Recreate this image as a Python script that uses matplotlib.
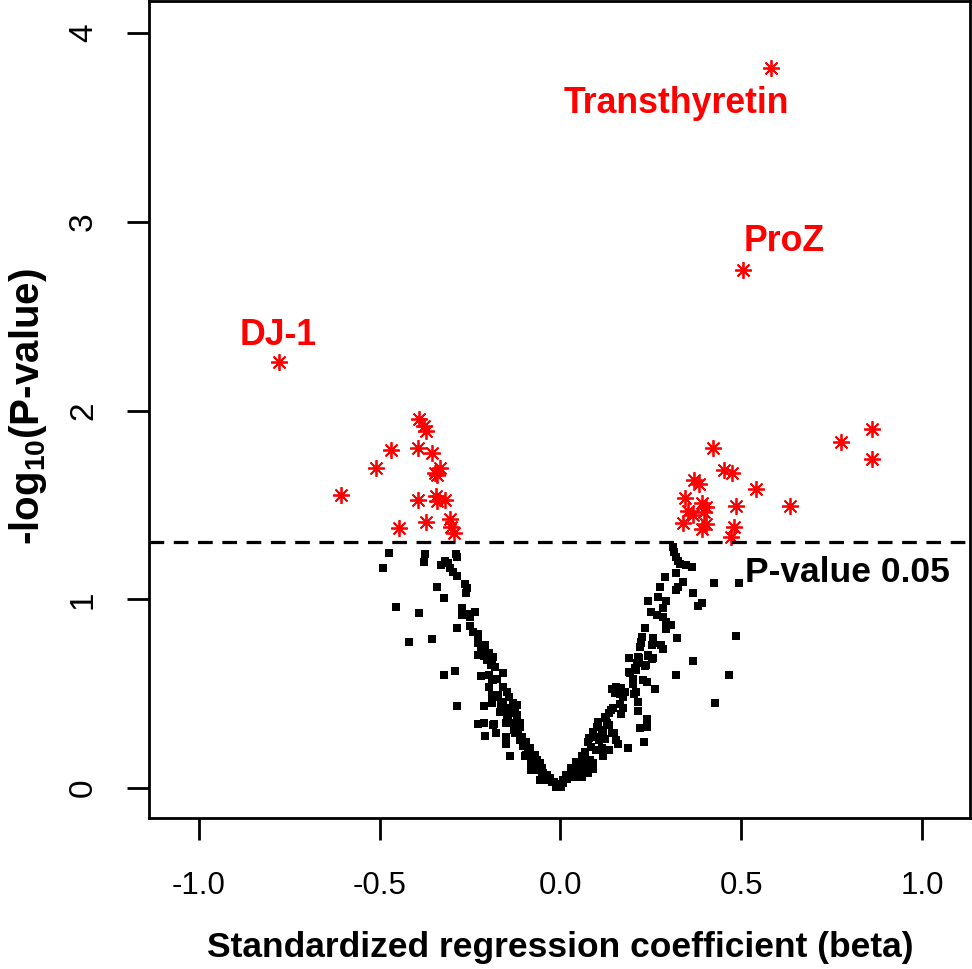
import matplotlib
matplotlib.use("Agg")
import matplotlib.pyplot as plt

plt.rcParams['font.family'] = ['Liberation Sans', 'DejaVu Sans']
plt.rcParams['mathtext.fontset'] = 'custom'
plt.rcParams['mathtext.rm'] = 'Liberation Sans'
plt.rcParams['mathtext.it'] = 'Liberation Sans'
plt.rcParams['mathtext.bf'] = 'Liberation Sans:bold'

# ---- significant proteins (red asterisks) ----
sig_beta = [0.582, 0.505, -0.779,
            -0.391, -0.378, -0.372, -0.469, -0.393, -0.356, -0.511, -0.333, -0.347,
            -0.341, -0.393, -0.344, -0.341, -0.318, -0.372, -0.446, -0.306, -0.303,
            -0.294, -0.607,
            0.421, 0.452, 0.476, 0.370, 0.383, 0.540, 0.344, 0.393, 0.402, 0.487,
            0.354, 0.367, 0.398, 0.340, 0.402, 0.393, 0.480, 0.471,
            0.863, 0.775, 0.863, 0.635]
sig_logp = [3.815, 2.744, 2.257,
            1.953, 1.920, 1.893, 1.791, 1.803, 1.773, 1.694, 1.694, 1.671,
            1.658, 1.526, 1.547, 1.522, 1.526, 1.408, 1.376, 1.424, 1.384,
            1.349, 1.552,
            1.800, 1.685, 1.671, 1.632, 1.609, 1.583, 1.535, 1.512, 1.487, 1.494,
            1.469, 1.446, 1.462, 1.402, 1.399, 1.371, 1.384, 1.328,
            1.900, 1.835, 1.742, 1.494]

# ---- non-significant proteins (black squares) ----
ns_beta = [
    -0.474, -0.490, -0.375, -0.378, -0.331, -0.320, -0.310, -0.289, -0.287, -0.306,
    -0.298, -0.287, -0.341, -0.264, -0.258, -0.261, -0.321, -0.456, -0.391, -0.271,
    -0.273, -0.259, -0.237, -0.250, -0.285, -0.250, -0.241, -0.227, -0.418, -0.355,
    -0.229, -0.209, -0.221, -0.227, -0.212, -0.197, -0.204, -0.188, -0.193, -0.181,
    -0.322, -0.292, -0.221, -0.197, -0.190, -0.176, -0.160, -0.197, -0.158, -0.149,
    -0.188, -0.175, -0.142, -0.190, -0.163, -0.131, -0.121, -0.285, -0.212, -0.163,
    -0.149, -0.132, -0.121, -0.149, -0.227, -0.212, -0.184, -0.151, -0.131, -0.112,
    -0.178, -0.209, -0.151, -0.129, -0.117, -0.151, -0.112, -0.098, -0.103, -0.140,
    -0.098, -0.089, -0.084, -0.075, -0.066, -0.080, -0.057, -0.080, -0.066, -0.052,
    -0.048, -0.038, -0.029, -0.018, -0.009, 0.000, -0.057, -0.046,
    -0.227, -0.223, -0.186, -0.190, -0.186, -0.172, -0.158, -0.126, -0.167, -0.144,
    -0.121, -0.186, -0.112, -0.126, -0.107, -0.094, -0.084, -0.094, -0.071, -0.075,
    -0.052, -0.043, -0.024, -0.011,
    0.312, 0.314, 0.321, 0.326, 0.332, 0.347, 0.363, 0.319, 0.289, 0.340,
    0.326, 0.275, 0.321, 0.425, 0.495, 0.366, 0.271, 0.292, 0.243, 0.393,
    0.381, 0.283, 0.250, 0.266, 0.284, 0.292, 0.306, 0.292, 0.234, 0.487,
    0.323, 0.225, 0.257, 0.222, 0.252, 0.220, 0.277, 0.283, 0.190, 0.215,
    0.243, 0.252, 0.366, 0.211, 0.234, 0.206, 0.192, 0.321, 0.467, 0.200,
    0.229, 0.240, 0.201, 0.261, 0.142, 0.155, 0.169, 0.151, 0.165, 0.178,
    0.203, 0.174, 0.215, 0.427, 0.165, 0.146, 0.215, 0.167, 0.135, 0.123,
    0.240, 0.105, 0.128, 0.100, 0.220, 0.240, 0.114, 0.144, 0.091, 0.095,
    0.123, 0.155, 0.231, 0.077, 0.086, 0.160, 0.188, 0.114, 0.135, 0.118,
    0.068, 0.059, 0.082, 0.091, 0.054, 0.045, 0.068, 0.091, 0.035, 0.054,
    0.026, 0.017, 0.008, 0.040, 0.003,
    0.223, 0.255, 0.218, 0.241, 0.255, 0.236, 0.190, 0.209, 0.209, 0.172,
    0.140, 0.126, 0.135, 0.117, 0.149, 0.080, 0.107, 0.098, 0.043, 0.066,
    0.029, 0.052, 0.075, 0.015, 0.006, -0.003, 0.061]
ns_logp = [
    1.247, 1.167, 1.240, 1.199, 1.181, 1.204, 1.190, 1.240, 1.226, 1.164,
    1.146, 1.123, 1.063, 1.081, 1.058, 1.031, 1.005, 0.961, 0.929, 0.952,
    0.917, 0.922, 0.934, 0.908, 0.846, 0.858, 0.828, 0.816, 0.775, 0.789,
    0.784, 0.758, 0.731, 0.705, 0.699, 0.714, 0.678, 0.687, 0.652, 0.639,
    0.599, 0.622, 0.593, 0.599, 0.572, 0.576, 0.608, 0.537, 0.537, 0.510,
    0.493, 0.484, 0.484, 0.449, 0.457, 0.449, 0.440, 0.434, 0.434, 0.413,
    0.422, 0.396, 0.387, 0.378, 0.339, 0.346, 0.337, 0.343, 0.343, 0.346,
    0.293, 0.275, 0.269, 0.307, 0.290, 0.233, 0.254, 0.245, 0.223, 0.170,
    0.170, 0.201, 0.184, 0.157, 0.148, 0.134, 0.131, 0.095, 0.095, 0.104,
    0.078, 0.069, 0.051, 0.033, 0.016, 0.007, 0.042, 0.057,
    0.767, 0.705, 0.696, 0.652, 0.572, 0.493, 0.440, 0.431, 0.404, 0.387,
    0.369, 0.334, 0.325, 0.290, 0.272, 0.245, 0.210, 0.175, 0.175, 0.131,
    0.086, 0.042, 0.033, 0.007,
    1.279, 1.252, 1.226, 1.204, 1.187, 1.181, 1.172, 1.141, 1.116, 1.093,
    1.066, 1.066, 1.049, 1.088, 1.088, 1.035, 1.014, 0.992, 0.991, 0.979,
    0.964, 0.952, 0.934, 0.917, 0.908, 0.881, 0.864, 0.841, 0.846, 0.805,
    0.793, 0.802, 0.793, 0.775, 0.758, 0.749, 0.758, 0.735, 0.687, 0.696,
    0.699, 0.682, 0.674, 0.664, 0.646, 0.634, 0.611, 0.599, 0.599, 0.576,
    0.572, 0.563, 0.551, 0.523, 0.523, 0.537, 0.528, 0.502, 0.498, 0.510,
    0.498, 0.484, 0.457, 0.452, 0.445, 0.422, 0.410, 0.392, 0.396, 0.375,
    0.364, 0.351, 0.346, 0.325, 0.316, 0.322, 0.307, 0.293, 0.298, 0.272,
    0.258, 0.254, 0.242, 0.245, 0.219, 0.233, 0.210, 0.210, 0.201, 0.170,
    0.192, 0.170, 0.148, 0.134, 0.134, 0.113, 0.104, 0.099, 0.086, 0.069,
    0.064, 0.046, 0.025, 0.057, 0.007,
    0.767, 0.767, 0.687, 0.705, 0.687, 0.652, 0.616, 0.625, 0.510, 0.422,
    0.413, 0.369, 0.334, 0.298, 0.290, 0.263, 0.254, 0.201, 0.139, 0.131,
    0.104, 0.086, 0.078, 0.069, 0.042, 0.021, 0.060]

labels = ["Transthyretin", "ProZ", "DJ-1"]
label_x = [0.322, 0.618, -0.781]
label_y = [3.629, 2.898, 2.400]

threshold = 1.30103  # -log10(0.05)
xticks = [-1.0, -0.5, 0.0, 0.5, 1.0]
yticks = [0, 1, 2, 3, 4]

fig = plt.figure(figsize=(9.72, 9.69), dpi=100)
ax = fig.add_axes([149/972, 1 - 818/969, (970-149)/972, (818-1)/969])

ax.plot(ns_beta, ns_logp, linestyle='none', marker='s', markersize=5.2,
        markeredgewidth=0, color='black')
ax.plot(sig_beta, sig_logp, linestyle='none', marker=(8, 2, 0), markersize=12,
        markeredgewidth=1.3, color='red', markeredgecolor='red')

ax.axhline(threshold, color='black', lw=2.3, dashes=(4.6, 3.0))

for t, x, y in zip(labels, label_x, label_y):
    ax.text(x, y, t, color='red', fontsize=25.7, fontweight='bold',
            ha='center', va='center')
ax.text(0.793, 1.144, "P-value 0.05", color='black', fontsize=25.5,
        fontweight='bold', ha='center', va='center')

ax.set_xlim(-1.138, 1.133)
ax.set_ylim(-0.159, 4.17)
ax.set_xticks(xticks)
ax.set_xticklabels([f"{v:.1f}" for v in xticks])
ax.set_yticks(yticks)
ax.set_yticklabels([str(v) for v in yticks], rotation=90, va='center')
ax.tick_params(axis='both', length=16, width=2, direction='out')
ax.tick_params(axis='x', pad=22, labelsize=22.5)
ax.tick_params(axis='y', pad=20, labelsize=24)
for s in ax.spines.values():
    s.set_linewidth(2)

fig.text(560/972, 1 - 948/969, "Standardized regression coefficient (beta)",
         ha='center', va='center', fontsize=25.5, fontweight='bold')
fig.text(28/972, 1 - 407/969, r"-log$_{\mathregular{10}}$(P-value)",
         ha='center', va='center', fontsize=29, fontweight='bold', rotation=90)

fig.savefig("out.png", dpi=100)
